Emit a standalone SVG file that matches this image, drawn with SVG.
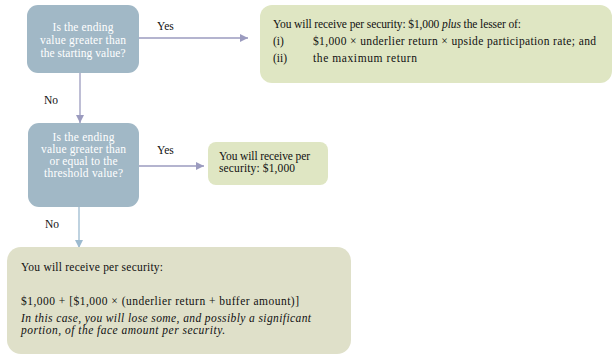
<svg xmlns="http://www.w3.org/2000/svg" width="616" height="357" viewBox="0 0 616 357">
<defs>
<style>
.q{fill:#a1b8c6}
.g1{fill:#dfe6c3}
.g2{fill:#dfe0c9}
text{font-family:"Liberation Serif","DejaVu Serif",serif;font-size:11.5px;fill:#111}
.w{fill:#fff;text-anchor:middle;font-size:11.5px}
.i{font-style:italic}
.c1{stroke:#9b9bbf;stroke-width:1.3;fill:none}
.c2{stroke:#9dbbd0;stroke-width:1.3;fill:none}
</style>
<marker id="a1" viewBox="0 0 10 10" refX="10" refY="5" markerWidth="8" markerHeight="8" markerUnits="userSpaceOnUse" orient="auto"><path d="M0,0L10,5L0,10z" fill="#9b9bbf"/></marker>
<marker id="a2" viewBox="0 0 10 10" refX="10" refY="5" markerWidth="8" markerHeight="8" markerUnits="userSpaceOnUse" orient="auto"><path d="M0,0L10,5L0,10z" fill="#9dbbd0"/></marker>
</defs>
<rect width="616" height="357" fill="#fff"/>
<g id="connectors">
<path class="c1" d="M139,38H248" marker-end="url(#a1)"/>
<path class="c1" d="M80,73V123" marker-end="url(#a1)"/>
<path class="c1" d="M139,166H204" marker-end="url(#a1)"/>
<path class="c2" d="M79,207V248" marker-end="url(#a2)"/>
<text x="157" y="30">Yes</text>
<text x="44" y="104">No</text>
<text x="157" y="154">Yes</text>
<text x="45" y="228">No</text>
</g>
<g id="q1">
<rect class="q" x="27" y="5" width="112" height="68" rx="11"/>
<text class="w" x="83" y="31" textLength="61">Is the ending</text>
<text class="w" x="83" y="44" textLength="86">value greater than</text>
<text class="w" x="83" y="57" textLength="85">the starting value?</text>
</g>
<g id="r1">
<rect class="g1" x="260" y="5" width="352" height="78" rx="12"/>
<text x="273" y="28" textLength="248">You will receive per security: $1,000 <tspan class="i">plus</tspan> the lesser of:</text>
<text x="273" y="45">(i)</text>
<text x="313" y="45" textLength="283">$1,000 × underlier return × upside participation rate; and</text>
<text x="273" y="62">(ii)</text>
<text x="313" y="62" textLength="104">the maximum return</text>
</g>
<g id="q2">
<rect class="q" x="28" y="123" width="111" height="84" rx="11"/>
<text class="w" x="83.5" y="141" textLength="62">Is the ending</text>
<text class="w" x="83.5" y="153" textLength="85">value greater than</text>
<text class="w" x="83.5" y="165" textLength="68">or equal to the</text>
<text class="w" x="83.5" y="177" textLength="79">threshold value?</text>
</g>
<g id="r2">
<rect class="g1" x="208" y="142" width="120" height="43" rx="8"/>
<text x="219" y="160" textLength="91">You will receive per</text>
<text x="219" y="172" textLength="76">security: $1,000</text>
</g>
<g id="r3">
<rect class="g2" x="7" y="247" width="344" height="107" rx="14"/>
<text x="21" y="271" textLength="142">You will receive per security:</text>
<text x="21" y="305" textLength="278">$1,000 + [$1,000 × (underlier return + buffer amount)]</text>
<text class="i" x="21" y="322" textLength="290">In this case, you will lose some, and possibly a significant</text>
<text class="i" x="21" y="334" textLength="204">portion, of the face amount per security.</text>
</g>
</svg>
